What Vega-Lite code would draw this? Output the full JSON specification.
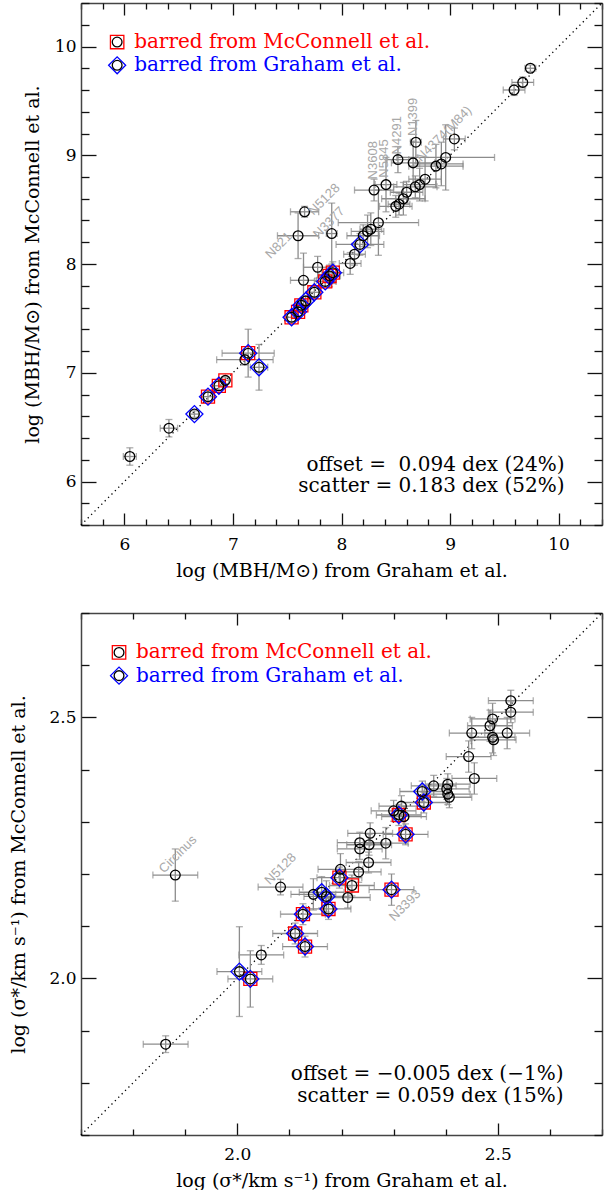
{
"$schema": "https://vega.github.io/schema/vega-lite/v6.json",
"background": "white",
"padding": {"left": 9, "top": 0, "right": 5, "bottom": 0},
"spacing": 30,
"config": {
  "view": {"stroke": null},
  "axis": {"grid": false, "domainColor": "#444", "domainWidth": 1.5, "tickColor": "#111", "tickWidth": 1.3,
           "labelFont": "DejaVu Serif", "labelFontSize": 17, "labelColor": "black",
           "titleFont": "DejaVu Serif", "titleFontSize": 19, "titleFontWeight": "normal", "titleColor": "black"}
},
"datasets": {
  "mbh": [
    {"gx":6.05,"mc":6.23,"gxe":0.06,"mce":0.08,"bar":""},
    {"gx":6.41,"mc":6.49,"gxe":0.08,"mce":0.08,"bar":""},
    {"gx":6.645,"mc":6.62,"gxe":0.04,"mce":0.03,"bar":"G"},
    {"gx":6.77,"mc":6.78,"gxe":0.04,"mce":0.04,"bar":"MG"},
    {"gx":6.87,"mc":6.88,"gxe":0.04,"mce":0.04,"bar":"MG"},
    {"gx":6.93,"mc":6.93,"gxe":0.03,"mce":0.03,"bar":"M"},
    {"gx":7.11,"mc":7.12,"gxe":0.26,"mce":0.05,"bar":""},
    {"gx":7.14,"mc":7.18,"gxe":0.24,"mce":0.22,"bar":"MG"},
    {"gx":7.24,"mc":7.05,"gxe":0.08,"mce":0.21,"bar":"G"},
    {"gx":7.54,"mc":7.51,"gxe":0.04,"mce":0.04,"bar":"MG"},
    {"gx":7.60,"mc":7.56,"gxe":0.05,"mce":0.05,"bar":"MG"},
    {"gx":7.63,"mc":7.62,"gxe":0.05,"mce":0.05,"bar":"MG"},
    {"gx":7.67,"mc":7.66,"gxe":0.05,"mce":0.05,"bar":"G"},
    {"gx":7.75,"mc":7.74,"gxe":0.05,"mce":0.05,"bar":"MG"},
    {"gx":7.85,"mc":7.84,"gxe":0.1,"mce":0.05,"bar":"MG"},
    {"gx":7.89,"mc":7.89,"gxe":0.1,"mce":0.1,"bar":"MG"},
    {"gx":7.92,"mc":7.92,"gxe":0.1,"mce":0.1,"bar":"MG"},
    {"gx":7.78,"mc":7.97,"gxe":0.13,"mce":0.1,"bar":""},
    {"gx":7.65,"mc":7.85,"gxe":0.12,"mce":0.25,"bar":""},
    {"gx":7.60,"mc":8.26,"gxe":0.19,"mce":0.21,"bar":""},
    {"gx":7.66,"mc":8.48,"gxe":0.13,"mce":0.05,"bar":""},
    {"gx":7.91,"mc":8.28,"gxe":0.05,"mce":0.28,"bar":""},
    {"gx":8.08,"mc":8.005,"gxe":0.1,"mce":0.1,"bar":""},
    {"gx":8.12,"mc":8.09,"gxe":0.1,"mce":0.1,"bar":""},
    {"gx":8.17,"mc":8.18,"gxe":0.22,"mce":0.1,"bar":"G"},
    {"gx":8.20,"mc":8.26,"gxe":0.15,"mce":0.1,"bar":""},
    {"gx":8.24,"mc":8.30,"gxe":0.15,"mce":0.15,"bar":""},
    {"gx":8.27,"mc":8.32,"gxe":0.1,"mce":0.15,"bar":""},
    {"gx":8.34,"mc":8.38,"gxe":0.37,"mce":0.3,"bar":""},
    {"gx":8.30,"mc":8.68,"gxe":0.18,"mce":0.1,"bar":""},
    {"gx":8.41,"mc":8.73,"gxe":0.1,"mce":0.25,"bar":""},
    {"gx":8.52,"mc":8.96,"gxe":0.1,"mce":0.12,"bar":""},
    {"gx":8.66,"mc":8.93,"gxe":0.2,"mce":0.2,"bar":""},
    {"gx":8.685,"mc":9.12,"gxe":0.05,"mce":0.2,"bar":""},
    {"gx":8.50,"mc":8.53,"gxe":0.15,"mce":0.1,"bar":""},
    {"gx":8.53,"mc":8.55,"gxe":0.1,"mce":0.1,"bar":""},
    {"gx":8.57,"mc":8.60,"gxe":0.2,"mce":0.15,"bar":""},
    {"gx":8.60,"mc":8.66,"gxe":0.15,"mce":0.1,"bar":""},
    {"gx":8.68,"mc":8.71,"gxe":0.2,"mce":0.1,"bar":""},
    {"gx":8.72,"mc":8.73,"gxe":0.15,"mce":0.15,"bar":""},
    {"gx":8.77,"mc":8.78,"gxe":0.15,"mce":0.2,"bar":""},
    {"gx":8.87,"mc":8.90,"gxe":0.25,"mce":0.2,"bar":""},
    {"gx":8.92,"mc":8.92,"gxe":0.2,"mce":0.2,"bar":""},
    {"gx":8.96,"mc":8.98,"gxe":0.45,"mce":0.3,"bar":""},
    {"gx":9.04,"mc":9.15,"gxe":0.1,"mce":0.1,"bar":""},
    {"gx":9.59,"mc":9.60,"gxe":0.1,"mce":0.05,"bar":""},
    {"gx":9.67,"mc":9.67,"gxe":0.1,"mce":0.05,"bar":""},
    {"gx":9.74,"mc":9.80,"gxe":0.05,"mce":0.03,"bar":""}
  ],
  "sig": [
    {"gx":1.8625,"mc":1.874,"gxe":0.043,"mce":0.016,"bar":""},
    {"gx":1.881,"mc":2.198,"gxe":0.043,"mce":0.05,"bar":""},
    {"gx":2.004,"mc":2.013,"gxe":0.043,"mce":0.086,"bar":"G"},
    {"gx":2.025,"mc":1.999,"gxe":0.043,"mce":0.054,"bar":"MG"},
    {"gx":2.046,"mc":2.045,"gxe":0.043,"mce":0.018,"bar":""},
    {"gx":2.083,"mc":2.175,"gxe":0.043,"mce":0.015,"bar":""},
    {"gx":2.111,"mc":2.086,"gxe":0.043,"mce":0.02,"bar":"MG"},
    {"gx":2.13,"mc":2.061,"gxe":0.043,"mce":0.02,"bar":"MG"},
    {"gx":2.126,"mc":2.123,"gxe":0.043,"mce":0.02,"bar":"MG"},
    {"gx":2.175,"mc":2.133,"gxe":0.043,"mce":0.02,"bar":"MG"},
    {"gx":2.162,"mc":2.165,"gxe":0.043,"mce":0.03,"bar":"G"},
    {"gx":2.171,"mc":2.157,"gxe":0.043,"mce":0.03,"bar":"G"},
    {"gx":2.146,"mc":2.161,"gxe":0.043,"mce":0.03,"bar":""},
    {"gx":2.212,"mc":2.155,"gxe":0.043,"mce":0.02,"bar":""},
    {"gx":2.22,"mc":2.178,"gxe":0.043,"mce":0.02,"bar":"M"},
    {"gx":2.196,"mc":2.193,"gxe":0.043,"mce":0.02,"bar":"MG"},
    {"gx":2.198,"mc":2.209,"gxe":0.043,"mce":0.03,"bar":""},
    {"gx":2.233,"mc":2.204,"gxe":0.043,"mce":0.02,"bar":""},
    {"gx":2.252,"mc":2.222,"gxe":0.043,"mce":0.02,"bar":""},
    {"gx":2.235,"mc":2.26,"gxe":0.043,"mce":0.02,"bar":""},
    {"gx":2.235,"mc":2.248,"gxe":0.043,"mce":0.02,"bar":""},
    {"gx":2.253,"mc":2.256,"gxe":0.043,"mce":0.02,"bar":""},
    {"gx":2.285,"mc":2.259,"gxe":0.043,"mce":0.03,"bar":""},
    {"gx":2.255,"mc":2.278,"gxe":0.043,"mce":0.02,"bar":""},
    {"gx":2.323,"mc":2.276,"gxe":0.043,"mce":0.02,"bar":"MG"},
    {"gx":2.296,"mc":2.17,"gxe":0.043,"mce":0.03,"bar":"MG"},
    {"gx":2.31,"mc":2.313,"gxe":0.043,"mce":0.02,"bar":"MG"},
    {"gx":2.30,"mc":2.321,"gxe":0.043,"mce":0.02,"bar":""},
    {"gx":2.32,"mc":2.31,"gxe":0.043,"mce":0.02,"bar":""},
    {"gx":2.358,"mc":2.337,"gxe":0.043,"mce":0.02,"bar":"MG"},
    {"gx":2.355,"mc":2.358,"gxe":0.043,"mce":0.02,"bar":"G"},
    {"gx":2.315,"mc":2.33,"gxe":0.043,"mce":0.02,"bar":""},
    {"gx":2.377,"mc":2.369,"gxe":0.043,"mce":0.02,"bar":""},
    {"gx":2.404,"mc":2.372,"gxe":0.043,"mce":0.02,"bar":""},
    {"gx":2.402,"mc":2.363,"gxe":0.043,"mce":0.02,"bar":""},
    {"gx":2.404,"mc":2.353,"gxe":0.043,"mce":0.02,"bar":""},
    {"gx":2.407,"mc":2.347,"gxe":0.043,"mce":0.02,"bar":""},
    {"gx":2.455,"mc":2.383,"gxe":0.043,"mce":0.03,"bar":""},
    {"gx":2.444,"mc":2.425,"gxe":0.043,"mce":0.03,"bar":""},
    {"gx":2.45,"mc":2.47,"gxe":0.043,"mce":0.03,"bar":""},
    {"gx":2.518,"mc":2.47,"gxe":0.043,"mce":0.03,"bar":""},
    {"gx":2.49,"mc":2.462,"gxe":0.043,"mce":0.03,"bar":""},
    {"gx":2.492,"mc":2.457,"gxe":0.043,"mce":0.03,"bar":""},
    {"gx":2.485,"mc":2.484,"gxe":0.043,"mce":0.03,"bar":""},
    {"gx":2.49,"mc":2.497,"gxe":0.043,"mce":0.03,"bar":""},
    {"gx":2.525,"mc":2.51,"gxe":0.043,"mce":0.02,"bar":""},
    {"gx":2.525,"mc":2.532,"gxe":0.043,"mce":0.02,"bar":""}
  ],
  "diagTop": [{"d":5.6},{"d":10.4}],
  "diagBot": [{"d":1.7},{"d":2.7}],
  "labTop45": [
    {"name":"N821","lx":7.32,"ly":8.07},
    {"name":"N5128","lx":7.716,"ly":8.47},
    {"name":"N3377","lx":7.76,"ly":8.257},
    {"name":"N4374(M84)","lx":8.709,"ly":8.962}
  ],
  "labTop90": [
    {"name":"N3608","lx":8.287,"ly":8.778},
    {"name":"N5845","lx":8.394,"ly":8.794},
    {"name":"N4291","lx":8.51,"ly":9.008},
    {"name":"N1399","lx":8.663,"ly":9.177}
  ],
  "labBot": [
    {"name":"Circinus","lx":1.854,"ly":2.206},
    {"name":"N5128","lx":2.057,"ly":2.184},
    {"name":"N3393","lx":2.296,"ly":2.114}
  ],
  "legTop": [
    {"lx":5.933,"ly":10.041,"t":"barred from McConnell et al.","k":"M"},
    {"lx":5.933,"ly":9.827,"t":"barred from Graham et al.","k":"G"}
  ],
  "legBot": [
    {"lx":1.773,"ly":2.6245,"t":"barred from McConnell et al.","k":"M"},
    {"lx":1.773,"ly":2.58,"t":"barred from Graham et al.","k":"G"}
  ],
  "statTop": [
    {"lx":10.055,"ly":6.156,"t":"offset =\u00a0\u00a00.094 dex (24%)"},
    {"lx":10.055,"ly":5.957,"t":"scatter = 0.183 dex (52%)"}
  ],
  "statBot": [
    {"lx":2.626,"ly":1.8167,"t":"offset = \u22120.005 dex (\u22121%)"},
    {"lx":2.626,"ly":1.7753,"t":"scatter = 0.059 dex (15%)"}
  ]
},
"vconcat": [
{
  "width": 521, "height": 522,
  "resolve": {"axis": {"x": "independent", "y": "independent"}},
  "layer": [
    {"data": {"name": "diagTop"},
     "mark": {"type": "line", "color": "black", "strokeDash": [1.3, 3.5], "strokeWidth": 1.3},
     "encoding": {
       "x": {"field": "d", "type": "quantitative", "scale": {"domain": [5.6, 10.4], "nice": false, "zero": false},
             "axis": {"orient": "bottom", "values": [6,7,8,9,10], "format": "d", "tickSize": -12, "labelPadding": 23, "titlePadding": 9,
                      "title": "log (MBH/M\u2299) from Graham et al."}},
       "y": {"field": "d", "type": "quantitative", "scale": {"domain": [5.6, 10.4], "nice": false, "zero": false},
             "axis": {"orient": "left", "values": [6,7,8,9,10], "format": "d", "tickSize": -15, "labelPadding": 20, "titlePadding": 12,
                      "title": "log (MBH/M\u2299) from McConnell et al."}}
     }},
    {"data": {"name": "diagTop"},
     "mark": {"type": "line", "opacity": 0},
     "encoding": {
       "x": {"field": "d", "type": "quantitative", "scale": {"domain": [5.6, 10.4], "nice": false, "zero": false},
             "axis": {"orient": "top", "values": [6,7,8,9,10], "tickSize": -12, "labels": false, "title": null}},
       "y": {"field": "d", "type": "quantitative", "scale": {"domain": [5.6, 10.4], "nice": false, "zero": false},
             "axis": {"orient": "right", "values": [6,7,8,9,10], "tickSize": -15, "labels": false, "title": null}}
     }},
    {"data": {"name": "diagTop"},
     "mark": {"type": "line", "opacity": 0},
     "encoding": {
       "x": {"field": "d", "type": "quantitative", "scale": {"domain": [5.6, 10.4], "nice": false, "zero": false},
             "axis": {"orient": "bottom", "values": [5.6,5.8,6.2,6.4,6.6,6.8,7.2,7.4,7.6,7.8,8.2,8.4,8.6,8.8,9.2,9.4,9.6,9.8,10.2,10.4], "tickSize": -6, "labels": false, "domain": false, "title": null}},
       "y": {"field": "d", "type": "quantitative", "scale": {"domain": [5.6, 10.4], "nice": false, "zero": false},
             "axis": {"orient": "left", "values": [5.6,5.8,6.2,6.4,6.6,6.8,7.2,7.4,7.6,7.8,8.2,8.4,8.6,8.8,9.2,9.4,9.6,9.8,10.2,10.4], "tickSize": -8, "labels": false, "domain": false, "title": null}}
     }},
    {"data": {"name": "diagTop"},
     "mark": {"type": "line", "opacity": 0},
     "encoding": {
       "x": {"field": "d", "type": "quantitative", "scale": {"domain": [5.6, 10.4], "nice": false, "zero": false},
             "axis": {"orient": "top", "values": [5.6,5.8,6.2,6.4,6.6,6.8,7.2,7.4,7.6,7.8,8.2,8.4,8.6,8.8,9.2,9.4,9.6,9.8,10.2,10.4], "tickSize": -6, "labels": false, "domain": false, "title": null}},
       "y": {"field": "d", "type": "quantitative", "scale": {"domain": [5.6, 10.4], "nice": false, "zero": false},
             "axis": {"orient": "right", "values": [5.6,5.8,6.2,6.4,6.6,6.8,7.2,7.4,7.6,7.8,8.2,8.4,8.6,8.8,9.2,9.4,9.6,9.8,10.2,10.4], "tickSize": -8, "labels": false, "domain": false, "title": null}}
     }},
    {"data": {"name": "mbh"},
     "mark": {"type": "errorbar", "color": "#8c8c8c", "ticks": {"size": 7, "thickness": 1.3, "color": "#8c8c8c"}, "rule": {"strokeWidth": 1.3, "color": "#8c8c8c"}},
     "encoding": {
       "x": {"field": "gx", "type": "quantitative", "scale": {"domain": [5.6, 10.4], "nice": false, "zero": false}, "axis": null},
       "xError": {"field": "gxe"},
       "y": {"field": "mc", "type": "quantitative", "scale": {"domain": [5.6, 10.4], "nice": false, "zero": false}, "axis": null}
     }},
    {"data": {"name": "mbh"},
     "mark": {"type": "errorbar", "color": "#8c8c8c", "ticks": {"size": 7, "thickness": 1.3, "color": "#8c8c8c"}, "rule": {"strokeWidth": 1.3, "color": "#8c8c8c"}},
     "encoding": {
       "y": {"field": "mc", "type": "quantitative", "scale": {"domain": [5.6, 10.4], "nice": false, "zero": false}, "axis": null},
       "yError": {"field": "mce"},
       "x": {"field": "gx", "type": "quantitative", "scale": {"domain": [5.6, 10.4], "nice": false, "zero": false}, "axis": null}
     }},
    {"data": {"name": "mbh"},
     "transform": [{"filter": {"field": "bar", "oneOf": ["M", "MG"]}}],
     "mark": {"type": "point", "shape": "square", "filled": false, "stroke": "#ff0000", "strokeWidth": 1.3, "size": 170, "opacity": 1},
     "encoding": {
       "x": {"field": "gx", "type": "quantitative", "scale": {"domain": [5.6, 10.4], "nice": false, "zero": false}, "axis": null},
       "y": {"field": "mc", "type": "quantitative", "scale": {"domain": [5.6, 10.4], "nice": false, "zero": false}, "axis": null}
     }},
    {"data": {"name": "mbh"},
     "transform": [{"filter": {"field": "bar", "oneOf": ["G", "MG"]}}],
     "mark": {"type": "point", "shape": "diamond", "filled": false, "stroke": "#0000ff", "strokeWidth": 1.3, "size": 290, "opacity": 1},
     "encoding": {
       "x": {"field": "gx", "type": "quantitative", "scale": {"domain": [5.6, 10.4], "nice": false, "zero": false}, "axis": null},
       "y": {"field": "mc", "type": "quantitative", "scale": {"domain": [5.6, 10.4], "nice": false, "zero": false}, "axis": null}
     }},
    {"data": {"name": "mbh"},
     "mark": {"type": "point", "shape": "circle", "filled": false, "stroke": "black", "strokeWidth": 1.3, "size": 95, "opacity": 1},
     "encoding": {
       "x": {"field": "gx", "type": "quantitative", "scale": {"domain": [5.6, 10.4], "nice": false, "zero": false}, "axis": null},
       "y": {"field": "mc", "type": "quantitative", "scale": {"domain": [5.6, 10.4], "nice": false, "zero": false}, "axis": null}
     }},
    {"data": {"name": "labTop45"},
     "mark": {"type": "text", "angle": -45, "align": "left", "baseline": "middle", "font": "Liberation Sans", "fontSize": 13, "color": "#a8a8a8"},
     "encoding": {
       "x": {"field": "lx", "type": "quantitative", "scale": {"domain": [5.6, 10.4], "nice": false, "zero": false}, "axis": null},
       "y": {"field": "ly", "type": "quantitative", "scale": {"domain": [5.6, 10.4], "nice": false, "zero": false}, "axis": null},
       "text": {"field": "name"}
     }},
    {"data": {"name": "labTop90"},
     "mark": {"type": "text", "angle": -90, "align": "left", "baseline": "middle", "font": "Liberation Sans", "fontSize": 13, "color": "#a8a8a8"},
     "encoding": {
       "x": {"field": "lx", "type": "quantitative", "scale": {"domain": [5.6, 10.4], "nice": false, "zero": false}, "axis": null},
       "y": {"field": "ly", "type": "quantitative", "scale": {"domain": [5.6, 10.4], "nice": false, "zero": false}, "axis": null},
       "text": {"field": "name"}
     }},
    {"data": {"name": "legTop"},
     "transform": [{"filter": {"field": "k", "equal": "M"}}],
     "mark": {"type": "point", "shape": "square", "filled": false, "stroke": "#ff0000", "strokeWidth": 1.3, "size": 180, "opacity": 1},
     "encoding": {
       "x": {"field": "lx", "type": "quantitative", "scale": {"domain": [5.6, 10.4], "nice": false, "zero": false}, "axis": null},
       "y": {"field": "ly", "type": "quantitative", "scale": {"domain": [5.6, 10.4], "nice": false, "zero": false}, "axis": null}
     }},
    {"data": {"name": "legTop"},
     "transform": [{"filter": {"field": "k", "equal": "G"}}],
     "mark": {"type": "point", "shape": "diamond", "filled": false, "stroke": "#0000ff", "strokeWidth": 1.3, "size": 290, "opacity": 1},
     "encoding": {
       "x": {"field": "lx", "type": "quantitative", "scale": {"domain": [5.6, 10.4], "nice": false, "zero": false}, "axis": null},
       "y": {"field": "ly", "type": "quantitative", "scale": {"domain": [5.6, 10.4], "nice": false, "zero": false}, "axis": null}
     }},
    {"data": {"name": "legTop"},
     "mark": {"type": "point", "shape": "circle", "filled": false, "stroke": "black", "strokeWidth": 1.3, "size": 95, "opacity": 1},
     "encoding": {
       "x": {"field": "lx", "type": "quantitative", "scale": {"domain": [5.6, 10.4], "nice": false, "zero": false}, "axis": null},
       "y": {"field": "ly", "type": "quantitative", "scale": {"domain": [5.6, 10.4], "nice": false, "zero": false}, "axis": null}
     }},
    {"data": {"name": "legTop"},
     "mark": {"type": "text", "align": "left", "baseline": "middle", "dx": 17, "font": "DejaVu Serif", "fontSize": 20},
     "encoding": {
       "x": {"field": "lx", "type": "quantitative", "scale": {"domain": [5.6, 10.4], "nice": false, "zero": false}, "axis": null},
       "y": {"field": "ly", "type": "quantitative", "scale": {"domain": [5.6, 10.4], "nice": false, "zero": false}, "axis": null},
       "text": {"field": "t"},
       "color": {"field": "k", "type": "nominal", "scale": {"domain": ["M", "G"], "range": ["#ff0000", "#0000ff"]}, "legend": null}
     }},
    {"data": {"name": "statTop"},
     "mark": {"type": "text", "align": "right", "baseline": "middle", "font": "DejaVu Serif", "fontSize": 20, "color": "black"},
     "encoding": {
       "x": {"field": "lx", "type": "quantitative", "scale": {"domain": [5.6, 10.4], "nice": false, "zero": false}, "axis": null},
       "y": {"field": "ly", "type": "quantitative", "scale": {"domain": [5.6, 10.4], "nice": false, "zero": false}, "axis": null},
       "text": {"field": "t"}
     }}
  ]
},
{
  "width": 521, "height": 522,
  "resolve": {"axis": {"x": "independent", "y": "independent"}},
  "layer": [
    {"data": {"name": "diagBot"},
     "mark": {"type": "line", "color": "black", "strokeDash": [1.3, 3.5], "strokeWidth": 1.3},
     "encoding": {
       "x": {"field": "d", "type": "quantitative", "scale": {"domain": [1.7, 2.7], "nice": false, "zero": false},
             "axis": {"orient": "bottom", "values": [2.0, 2.5], "format": ".1f", "tickSize": -12, "labelPadding": 23, "titlePadding": 9,
                      "title": "log (\u03c3*/km s\u207b\u00b9) from Graham et al."}},
       "y": {"field": "d", "type": "quantitative", "scale": {"domain": [1.7, 2.7], "nice": false, "zero": false},
             "axis": {"orient": "left", "values": [2.0, 2.5], "format": ".1f", "tickSize": -15, "labelPadding": 20, "titlePadding": 20,
                      "title": "log (\u03c3*/km s\u207b\u00b9) from McConnell et al."}}
     }},
    {"data": {"name": "diagBot"},
     "mark": {"type": "line", "opacity": 0},
     "encoding": {
       "x": {"field": "d", "type": "quantitative", "scale": {"domain": [1.7, 2.7], "nice": false, "zero": false},
             "axis": {"orient": "top", "values": [2.0, 2.5], "tickSize": -12, "labels": false, "title": null}},
       "y": {"field": "d", "type": "quantitative", "scale": {"domain": [1.7, 2.7], "nice": false, "zero": false},
             "axis": {"orient": "right", "values": [2.0, 2.5], "tickSize": -15, "labels": false, "title": null}}
     }},
    {"data": {"name": "diagBot"},
     "mark": {"type": "line", "opacity": 0},
     "encoding": {
       "x": {"field": "d", "type": "quantitative", "scale": {"domain": [1.7, 2.7], "nice": false, "zero": false},
             "axis": {"orient": "bottom", "values": [1.7,1.8,1.9,2.1,2.2,2.3,2.4,2.6,2.7], "tickSize": -6, "labels": false, "domain": false, "title": null}},
       "y": {"field": "d", "type": "quantitative", "scale": {"domain": [1.7, 2.7], "nice": false, "zero": false},
             "axis": {"orient": "left", "values": [1.7,1.8,1.9,2.1,2.2,2.3,2.4,2.6,2.7], "tickSize": -8, "labels": false, "domain": false, "title": null}}
     }},
    {"data": {"name": "diagBot"},
     "mark": {"type": "line", "opacity": 0},
     "encoding": {
       "x": {"field": "d", "type": "quantitative", "scale": {"domain": [1.7, 2.7], "nice": false, "zero": false},
             "axis": {"orient": "top", "values": [1.7,1.8,1.9,2.1,2.2,2.3,2.4,2.6,2.7], "tickSize": -6, "labels": false, "domain": false, "title": null}},
       "y": {"field": "d", "type": "quantitative", "scale": {"domain": [1.7, 2.7], "nice": false, "zero": false},
             "axis": {"orient": "right", "values": [1.7,1.8,1.9,2.1,2.2,2.3,2.4,2.6,2.7], "tickSize": -8, "labels": false, "domain": false, "title": null}}
     }},
    {"data": {"name": "sig"},
     "mark": {"type": "errorbar", "color": "#8c8c8c", "ticks": {"size": 7, "thickness": 1.3, "color": "#8c8c8c"}, "rule": {"strokeWidth": 1.3, "color": "#8c8c8c"}},
     "encoding": {
       "x": {"field": "gx", "type": "quantitative", "scale": {"domain": [1.7, 2.7], "nice": false, "zero": false}, "axis": null},
       "xError": {"field": "gxe"},
       "y": {"field": "mc", "type": "quantitative", "scale": {"domain": [1.7, 2.7], "nice": false, "zero": false}, "axis": null}
     }},
    {"data": {"name": "sig"},
     "mark": {"type": "errorbar", "color": "#8c8c8c", "ticks": {"size": 7, "thickness": 1.3, "color": "#8c8c8c"}, "rule": {"strokeWidth": 1.3, "color": "#8c8c8c"}},
     "encoding": {
       "y": {"field": "mc", "type": "quantitative", "scale": {"domain": [1.7, 2.7], "nice": false, "zero": false}, "axis": null},
       "yError": {"field": "mce"},
       "x": {"field": "gx", "type": "quantitative", "scale": {"domain": [1.7, 2.7], "nice": false, "zero": false}, "axis": null}
     }},
    {"data": {"name": "sig"},
     "transform": [{"filter": {"field": "bar", "oneOf": ["M", "MG"]}}],
     "mark": {"type": "point", "shape": "square", "filled": false, "stroke": "#ff0000", "strokeWidth": 1.3, "size": 170, "opacity": 1},
     "encoding": {
       "x": {"field": "gx", "type": "quantitative", "scale": {"domain": [1.7, 2.7], "nice": false, "zero": false}, "axis": null},
       "y": {"field": "mc", "type": "quantitative", "scale": {"domain": [1.7, 2.7], "nice": false, "zero": false}, "axis": null}
     }},
    {"data": {"name": "sig"},
     "transform": [{"filter": {"field": "bar", "oneOf": ["G", "MG"]}}],
     "mark": {"type": "point", "shape": "diamond", "filled": false, "stroke": "#0000ff", "strokeWidth": 1.3, "size": 290, "opacity": 1},
     "encoding": {
       "x": {"field": "gx", "type": "quantitative", "scale": {"domain": [1.7, 2.7], "nice": false, "zero": false}, "axis": null},
       "y": {"field": "mc", "type": "quantitative", "scale": {"domain": [1.7, 2.7], "nice": false, "zero": false}, "axis": null}
     }},
    {"data": {"name": "sig"},
     "mark": {"type": "point", "shape": "circle", "filled": false, "stroke": "black", "strokeWidth": 1.3, "size": 95, "opacity": 1},
     "encoding": {
       "x": {"field": "gx", "type": "quantitative", "scale": {"domain": [1.7, 2.7], "nice": false, "zero": false}, "axis": null},
       "y": {"field": "mc", "type": "quantitative", "scale": {"domain": [1.7, 2.7], "nice": false, "zero": false}, "axis": null}
     }},
    {"data": {"name": "labBot"},
     "mark": {"type": "text", "angle": -45, "align": "left", "baseline": "middle", "font": "Liberation Sans", "fontSize": 13, "color": "#a8a8a8"},
     "encoding": {
       "x": {"field": "lx", "type": "quantitative", "scale": {"domain": [1.7, 2.7], "nice": false, "zero": false}, "axis": null},
       "y": {"field": "ly", "type": "quantitative", "scale": {"domain": [1.7, 2.7], "nice": false, "zero": false}, "axis": null},
       "text": {"field": "name"}
     }},
    {"data": {"name": "legBot"},
     "transform": [{"filter": {"field": "k", "equal": "M"}}],
     "mark": {"type": "point", "shape": "square", "filled": false, "stroke": "#ff0000", "strokeWidth": 1.3, "size": 180, "opacity": 1},
     "encoding": {
       "x": {"field": "lx", "type": "quantitative", "scale": {"domain": [1.7, 2.7], "nice": false, "zero": false}, "axis": null},
       "y": {"field": "ly", "type": "quantitative", "scale": {"domain": [1.7, 2.7], "nice": false, "zero": false}, "axis": null}
     }},
    {"data": {"name": "legBot"},
     "transform": [{"filter": {"field": "k", "equal": "G"}}],
     "mark": {"type": "point", "shape": "diamond", "filled": false, "stroke": "#0000ff", "strokeWidth": 1.3, "size": 290, "opacity": 1},
     "encoding": {
       "x": {"field": "lx", "type": "quantitative", "scale": {"domain": [1.7, 2.7], "nice": false, "zero": false}, "axis": null},
       "y": {"field": "ly", "type": "quantitative", "scale": {"domain": [1.7, 2.7], "nice": false, "zero": false}, "axis": null}
     }},
    {"data": {"name": "legBot"},
     "mark": {"type": "point", "shape": "circle", "filled": false, "stroke": "black", "strokeWidth": 1.3, "size": 95, "opacity": 1},
     "encoding": {
       "x": {"field": "lx", "type": "quantitative", "scale": {"domain": [1.7, 2.7], "nice": false, "zero": false}, "axis": null},
       "y": {"field": "ly", "type": "quantitative", "scale": {"domain": [1.7, 2.7], "nice": false, "zero": false}, "axis": null}
     }},
    {"data": {"name": "legBot"},
     "mark": {"type": "text", "align": "left", "baseline": "middle", "dx": 17, "font": "DejaVu Serif", "fontSize": 20},
     "encoding": {
       "x": {"field": "lx", "type": "quantitative", "scale": {"domain": [1.7, 2.7], "nice": false, "zero": false}, "axis": null},
       "y": {"field": "ly", "type": "quantitative", "scale": {"domain": [1.7, 2.7], "nice": false, "zero": false}, "axis": null},
       "text": {"field": "t"},
       "color": {"field": "k", "type": "nominal", "scale": {"domain": ["M", "G"], "range": ["#ff0000", "#0000ff"]}, "legend": null}
     }},
    {"data": {"name": "statBot"},
     "mark": {"type": "text", "align": "right", "baseline": "middle", "font": "DejaVu Serif", "fontSize": 20, "color": "black"},
     "encoding": {
       "x": {"field": "lx", "type": "quantitative", "scale": {"domain": [1.7, 2.7], "nice": false, "zero": false}, "axis": null},
       "y": {"field": "ly", "type": "quantitative", "scale": {"domain": [1.7, 2.7], "nice": false, "zero": false}, "axis": null},
       "text": {"field": "t"}
     }}
  ]
}
]
}
